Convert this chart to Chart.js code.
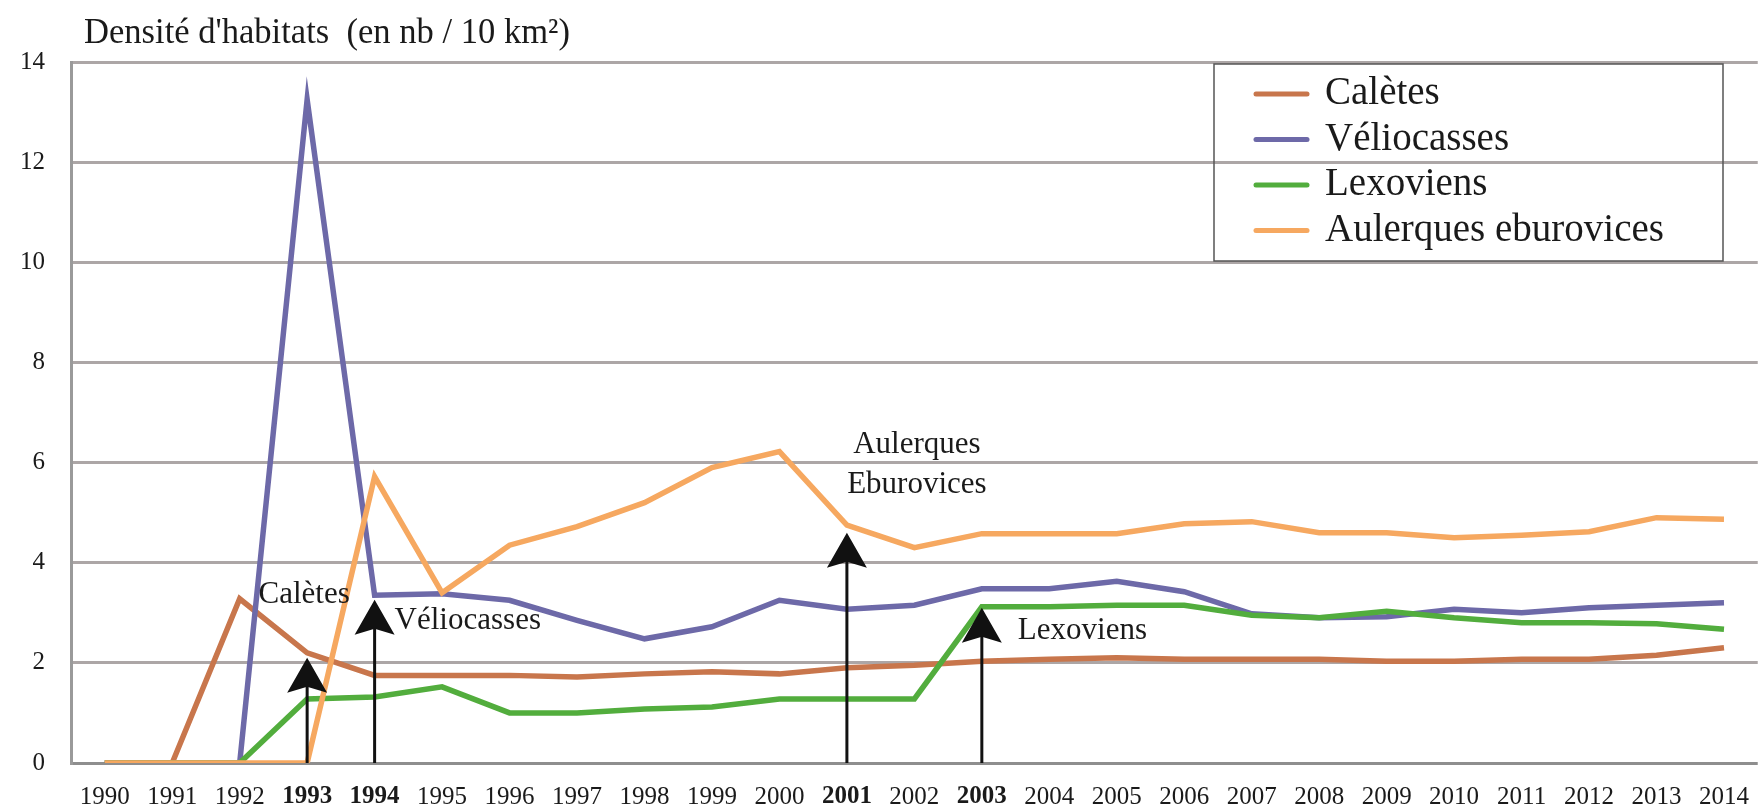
<!DOCTYPE html>
<html>
  <head>
    <title>Densité d'habitats</title>
    <script src="https://cdn.jsdelivr.net/npm/chart.js@4.4.1/dist/chart.umd.min.js"></script>
    <style>
      body { margin: 0; background: #fff; }
      canvas { display: block; }
    </style>
  </head>

  <body>
    <canvas id="canvas" width="1760" height="808"></canvas>
    <script>
      const titleText = "Densité d'habitats  (en nb / 10 km²)";
      const years = ['1990', '1991', '1992', '1993', '1994', '1995', '1996', '1997', '1998', '1999', '2000', '2001',
        '2002', '2003', '2004', '2005', '2006', '2007', '2008', '2009', '2010', '2011', '2012', '2013', '2014'];
      const boldYears = ['1993', '1994', '2001', '2003'];

      const caletes = [0, 0, 3.28, 2.2, 1.75, 1.75, 1.75, 1.72, 1.78, 1.82, 1.78, 1.9, 1.95,
        2.03, 2.07, 2.1, 2.07, 2.07, 2.07, 2.03, 2.03, 2.07, 2.07, 2.15, 2.3];
      const veliocasses = [0, 0, 0, 13.25, 3.35, 3.38, 3.25, 2.85, 2.48, 2.72, 3.25, 3.07, 3.15,
        3.48, 3.48, 3.63, 3.42, 2.98, 2.9, 2.92, 3.07, 3.0, 3.1, 3.15, 3.2];
      const lexoviens = [0, 0, 0, 1.28, 1.32, 1.52, 1.0, 1.0, 1.08, 1.12, 1.28, 1.28, 1.28,
        3.12, 3.12, 3.15, 3.15, 2.95, 2.9, 3.03, 2.9, 2.8, 2.8, 2.78, 2.67];
      const aulerques = [0, 0, 0, 0, 5.72, 3.4, 4.35, 4.72, 5.2, 5.9, 6.22, 4.75, 4.3,
        4.58, 4.58, 4.58, 4.78, 4.82, 4.6, 4.6, 4.5, 4.55, 4.62, 4.9, 4.87];

      // arrows marking the start of each territory's series
      const arrowYears = ['1993', '1994', '2001', '2003'];
      const arrowTips = [2.1, 3.26, 4.6, 3.1];
      const noteLines = [['Calètes'], ['Véliocasses'], ['Aulerques', 'Eburovices'], ['Lexoviens']];

      const serif = "'Liberation Serif', 'DejaVu Serif', serif";

      function line(label, data, color, order) {
        return {
          label: label,
          data: data,
          borderColor: color,
          backgroundColor: color,
          borderWidth: 5.5,
          pointRadius: 0,
          tension: 0,
          order: order,
        };
      }

      const titlePlugin = {
        id: 'titleText',
        afterDraw(chart) {
          const ctx = chart.ctx;
          ctx.save();
          ctx.fillStyle = '#1a1a1a';
          ctx.font = '36px ' + serif;
          ctx.textBaseline = 'middle';
          ctx.textAlign = 'left';
          ctx.translate(84, 34);
          ctx.scale(0.96, 1);
          ctx.fillText(titleText, 0, 0);
          ctx.restore();
        },
      };

      // note placement relative to each arrow: dx in px, y in data units
      const notePlace = [
        { dx: -3, y: 3.36, align: 'center' },
        { dx: 20, y: 2.84, align: 'left' },
        { dx: 70, y: 6.35, align: 'center' },
        { dx: 36, y: 2.64, align: 'left' },
      ];

      const arrowPlugin = {
        id: 'arrows',
        afterDatasetsDraw(chart) {
          const ctx = chart.ctx;
          const xs = chart.scales.x;
          const ys = chart.scales.y;
          ctx.save();
          arrowYears.forEach((yr, i) => {
            const x = xs.getPixelForValue(years.indexOf(yr));
            const y0 = ys.getPixelForValue(0);
            const yt = ys.getPixelForValue(arrowTips[i]);
            ctx.strokeStyle = '#111';
            ctx.lineWidth = 3;
            ctx.beginPath();
            ctx.moveTo(x, y0);
            ctx.lineTo(x, yt + 24);
            ctx.stroke();
            ctx.fillStyle = '#111';
            ctx.beginPath();
            ctx.moveTo(x, yt);
            ctx.lineTo(x + 20, yt + 35);
            ctx.lineTo(x, yt + 29);
            ctx.lineTo(x - 20, yt + 35);
            ctx.closePath();
            ctx.fill();

            const p = notePlace[i];
            ctx.font = '31px ' + serif;
            ctx.textAlign = p.align;
            ctx.textBaseline = 'middle';
            ctx.fillStyle = '#1a1a1a';
            const ty = ys.getPixelForValue(p.y);
            noteLines[i].forEach((t, k) => {
              ctx.fillText(t, x + p.dx, ty + k * 40);
            });
          });
          ctx.restore();
        },
      };

      const legendPlugin = {
        id: 'boxLegend',
        afterDraw(chart) {
          const ctx = chart.ctx;
          ctx.save();
          ctx.strokeStyle = '#555';
          ctx.lineWidth = 1.5;
          ctx.strokeRect(1214, 64, 509, 197);
          ctx.font = '39px ' + serif;
          ctx.textBaseline = 'middle';
          ctx.textAlign = 'left';
          chart.data.datasets.forEach((ds, i) => {
            const y = 94 + i * 45.5;
            ctx.strokeStyle = ds.borderColor;
            ctx.lineWidth = 5;
            ctx.lineCap = 'round';
            ctx.beginPath();
            ctx.moveTo(1256, y);
            ctx.lineTo(1307, y);
            ctx.stroke();
            ctx.fillStyle = '#1a1a1a';
            ctx.fillText(ds.label, 1325, y);
          });
          ctx.restore();
        },
      };

      window.onload = () => {
        const ctx = document.getElementById('canvas').getContext('2d');
        window.myLine = new Chart(ctx, {
          type: 'line',
          data: {
            labels: years,
            datasets: [
              line('Calètes', caletes, '#c8764c', 3),
              line('Véliocasses', veliocasses, '#6d69a8', 2),
              line('Lexoviens', lexoviens, '#52ad3d', 1),
              line('Aulerques eburovices', aulerques, '#f6a860', 0),
            ],
          },
          options: {
            responsive: false,
            animation: false,
            layout: { padding: { top: 62, right: 0, left: 0, bottom: 0 } },
            plugins: {
              legend: { display: false },
              title: { display: false },
              tooltip: { enabled: false },
            },
            scales: {
              x: {
                offset: true,
                grid: { display: false },
                border: { display: false },
                ticks: {
                  color: '#1a1a1a',
                  padding: 11,
                  maxRotation: 0,
                  autoSkip: false,
                  font: (c) => ({
                    family: serif,
                    size: 25,
                    weight: c.tick && boldYears.includes(years[c.index]) ? 'bold' : 'normal',
                  }),
                },
                afterFit: (scale) => { scale.height = 45; },
              },
              y: {
                min: 0,
                max: 14,
                ticks: {
                  stepSize: 2,
                  padding: 26,
                  color: '#1a1a1a',
                  font: { family: serif, size: 25 },
                },
                grid: {
                  drawTicks: false,
                  lineWidth: 3,
                  color: (c) => (c.tick && c.tick.value === 0 ? '#8e8e8e' : '#aca6a6'),
                },
                border: { display: true, color: '#9a9a9a', width: 3 },
                afterFit: (scale) => { scale.width = 71; },
              },
            },
          },
          plugins: [titlePlugin, arrowPlugin, legendPlugin],
        });
      };
    </script>
  </body>
</html>
